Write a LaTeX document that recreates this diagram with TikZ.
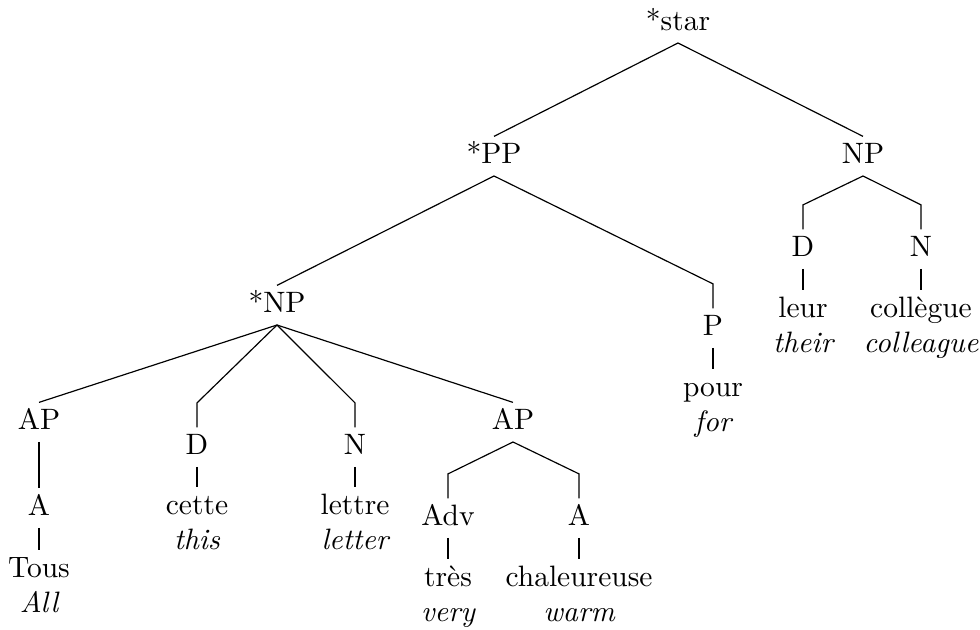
\documentclass[tikz,border=0pt]{standalone}
\begin{document}
\begin{tikzpicture}[x=0.33898pt, y=-0.33898pt,
  lab/.style={text height=6.83pt, text depth=2.2pt, inner sep=2pt, anchor=base},
  gl/.style={font=\itshape, inner sep=0pt, anchor=base},
  kneeup/.style={yshift=8.3pt},
  every path/.style={line width=0.4pt}]
\useasboundingbox (0,0) rectangle (980,629);
% nodes
\node[lab] (star) at (678,30) {*star};
\node[lab] (pp) at (494,163) {*PP};
\node[lab] (np) at (863,163) {NP};
\node[lab] (d2) at (803,256) {D};
\node[lab] (n2) at (921,256) {N};
\node[lab] (leur) at (803,317) {leur};
\node[gl] (their) at (803,352) {their};
\node[lab] (coll) at (921,317) {collègue};
\node[gl] (colleague) at (921,352) {colleague};
\node[lab] (snp) at (277,312) {*NP};
\node[lab] (p) at (713,335) {P};
\node[lab] (pour) at (713,396) {pour};
\node[gl] (for) at (713,431) {for};
\node[lab] (ap1) at (39,429) {AP};
\node[lab] (d1) at (197,454) {D};
\node[lab] (n1) at (355,454) {N};
\node[lab] (ap2) at (513,429) {AP};
\node[lab] (a1) at (39,515) {A};
\node[lab] (tous) at (39,577) {Tous};
\node[gl] (all) at (39,612) {All};
\node[lab] (cette) at (197,514) {cette};
\node[gl] (this) at (197,549) {this};
\node[lab] (lettre) at (355,514) {lettre};
\node[gl] (letter) at (355,549) {letter};
\node[lab] (adv) at (448,525) {Adv};
\node[lab] (a2) at (579,525) {A};
\node[lab] (tres) at (448,586) {très};
\node[gl] (very) at (448,621) {very};
\node[lab] (chal) at (579,586) {chaleureuse};
\node[gl] (warm) at (579,621) {warm};
% edges
\draw (star.south) -- (pp.north);
\draw (star.south) -- (np.north);
\draw (np.south) -- ([kneeup]d2.north) -- (d2.north);
\draw (np.south) -- ([kneeup]n2.north) -- (n2.north);
\draw (d2.south) -- (leur.north);
\draw (n2.south) -- (coll.north);
\draw (pp.south) -- (snp.north);
\draw (pp.south) -- ([kneeup]p.north) -- (p.north);
\draw (p.south) -- (pour.north);
\draw (snp.south) -- (ap1.north);
\draw (snp.south) -- ([kneeup]d1.north) -- (d1.north);
\draw (snp.south) -- ([kneeup]n1.north) -- (n1.north);
\draw (snp.south) -- (ap2.north);
\draw (ap1.south) -- (a1.north);
\draw (a1.south) -- (tous.north);
\draw (d1.south) -- (cette.north);
\draw (n1.south) -- (lettre.north);
\draw (ap2.south) -- ([kneeup]adv.north) -- (adv.north);
\draw (ap2.south) -- ([kneeup]a2.north) -- (a2.north);
\draw (adv.south) -- (tres.north);
\draw (a2.south) -- (chal.north);
\end{tikzpicture}
\end{document}
